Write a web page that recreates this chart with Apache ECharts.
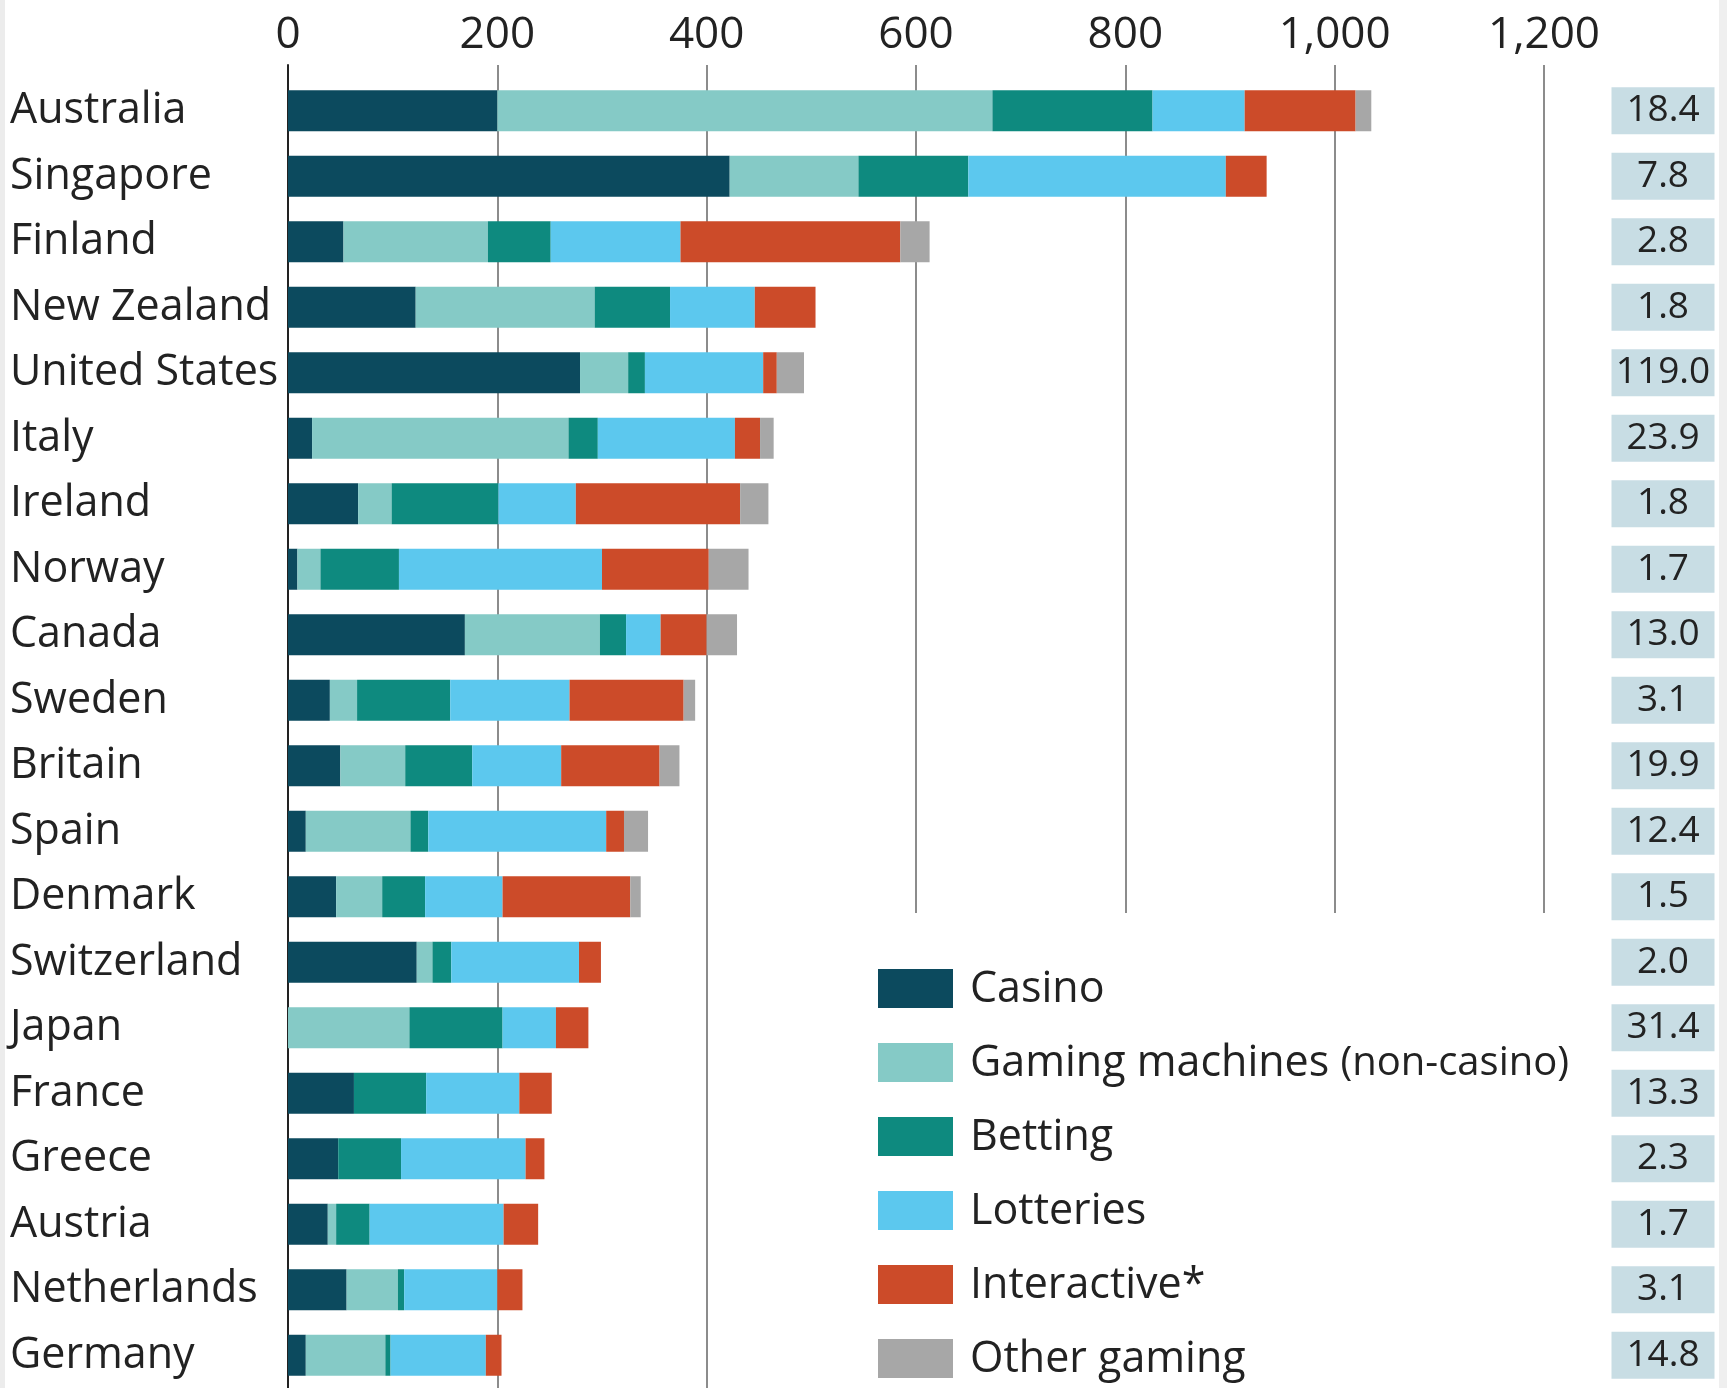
<!DOCTYPE html>
<html><head><meta charset="utf-8">
<script src="https://cdn.jsdelivr.net/npm/echarts@6/dist/echarts.min.js"></script>
<style>html,body{margin:0;padding:0;background:#fff}#c{width:1727px;height:1388px}</style>
</head><body><div id="c"></div>
<script>
const countries = ['Australia','Singapore','Finland','New Zealand','United States','Italy','Ireland','Norway','Canada','Sweden','Britain','Spain','Denmark','Switzerland','Japan','France','Greece','Austria','Netherlands','Germany'];
const casino      = [200, 422,  53, 122, 279,  23,  67,   9, 169,  40,  50,  17,  46, 123,   0,  63,  48,  38,  56,  17];
const gaming      = [473, 123, 138, 171,  46, 245,  32,  22, 129,  26,  62, 100,  44,  15, 116,   0,   0,   8,  49,  76];
const betting     = [153, 105,  60,  72,  16,  28, 102,  75,  25,  89,  64,  17,  41,  18,  89,  69,  60,  32,   6,   5];
const lotteries   = [ 88, 246, 124,  81, 113, 131,  74, 194,  33, 114,  85, 170,  74, 122,  51,  89, 119, 128,  89,  91];
const interactive = [106,  39, 210,  58,  13,  24, 157, 102,  44, 109,  94,  17, 122,  21,  31,  31,  18,  33,  24,  15];
const other       = [ 15,   0,  28,   0,  26,  13,  27,  38,  29,  11,  19,  23,  10,   0,   0,   0,   0,   0,   0,   0];
const boxValues = ['18.4','7.8','2.8','1.8','119.0','23.9','1.8','1.7','13.0','3.1','19.9','12.4','1.5','2.0','31.4','13.3','2.3','1.7','3.1','14.8'];
const xTicks = [0, 200, 400, 600, 800, 1000, 1200];
const seriesNames = ['Casino','Gaming machines (non-casino)','Betting','Lotteries','Interactive*','Other gaming'];
const seriesValues = [casino, gaming, betting, lotteries, interactive, other];
const colors = ['#0c4a5e','#85cac6','#0e8a7f','#5cc8ee','#cc4b29','#a7a7a7'];

const FONT = "'Open Sans','DejaVu Sans',sans-serif";
const TXT = '#222';

const chart = echarts.init(document.getElementById('c'), null, {renderer: 'canvas'});
chart.setOption({
  backgroundColor: '#fff',
  animation: false,
  textStyle: {fontFamily: FONT},
  grid: [
    {left: 288, right: 183, top: 65, bottom: -5},
    {left: 288, right: 183, top: 78, bottom: -5}
  ],
  xAxis: [
    {gridIndex: 0, type: 'value', position: 'top',
     min: xTicks[0], max: xTicks[xTicks.length - 1], interval: xTicks[1] - xTicks[0],
     axisLine: {show: false}, axisTick: {show: false},
     axisLabel: {show: true, showMinLabel: true, showMaxLabel: true, fontSize: 44, color: TXT, fontFamily: FONT,
                 margin: 30, verticalAlign: 'middle',
                 formatter: v => v.toLocaleString('en-US')},
     splitLine: {show: true, lineStyle: {color: '#8c8c8c', width: 2}}},
    {gridIndex: 1, type: 'value', min: xTicks[0], max: xTicks[xTicks.length - 1], show: false}
  ],
  yAxis: [
    {gridIndex: 0, type: 'category', data: countries, inverse: true,
     axisLine: {show: true, lineStyle: {color: '#222', width: 2}},
     axisTick: {show: false}, axisLabel: {show: false}, splitLine: {show: false}},
    {gridIndex: 1, type: 'category', data: countries, inverse: true,
     axisLine: {show: false}, axisTick: {show: false},
     axisLabel: {interval: 0, align: 'left', margin: 278, fontSize: 43, color: TXT, fontFamily: FONT,
                 backgroundColor: 'rgba(255,255,255,0)', padding: [12, 0, 0, 0]}},
    {gridIndex: 1, type: 'category', data: countries, inverse: true, position: 'right',
     axisLine: {show: false}, axisTick: {show: false},
     axisLabel: {interval: 0, align: 'center', margin: 119, fontSize: 37, color: TXT, fontFamily: FONT,
                 backgroundColor: '#c8dde4', width: 103, height: 47, lineHeight: 47,
                 formatter: (v, i) => boxValues[i]}}
  ],
  legend: {
    orient: 'vertical', left: 878, top: 968, padding: 0, height: 460,
    itemWidth: 75, itemHeight: 39, itemGap: 31, icon: 'rect',
    data: seriesNames,
    formatter: n => n.replace('(non-casino)', '{s|(non-casino)}'),
    textStyle: {fontSize: 43, color: TXT, fontFamily: FONT, padding: [2, 0, 0, 12],
                rich: {s: {fontSize: 40, color: TXT, fontFamily: FONT}}}
  },
  graphic: [
    {type: 'rect', left: 860, top: 913, shape: {width: 740, height: 480}, style: {fill: '#fff'}, z: 1},
    {type: 'rect', left: 0, top: 0, shape: {width: 5, height: 1388}, style: {fill: '#ececec'}, z: 1},
    {type: 'rect', left: 1719, top: 0, shape: {width: 8, height: 1388}, style: {fill: '#efefef'}, z: 1}
  ],
  series: seriesNames.map((name, k) => ({
    name, type: 'bar', stack: 'total', xAxisIndex: 1, yAxisIndex: 1,
    barWidth: 41, itemStyle: {color: colors[k]},
    data: seriesValues[k]
  }))
});
</script></body></html>
